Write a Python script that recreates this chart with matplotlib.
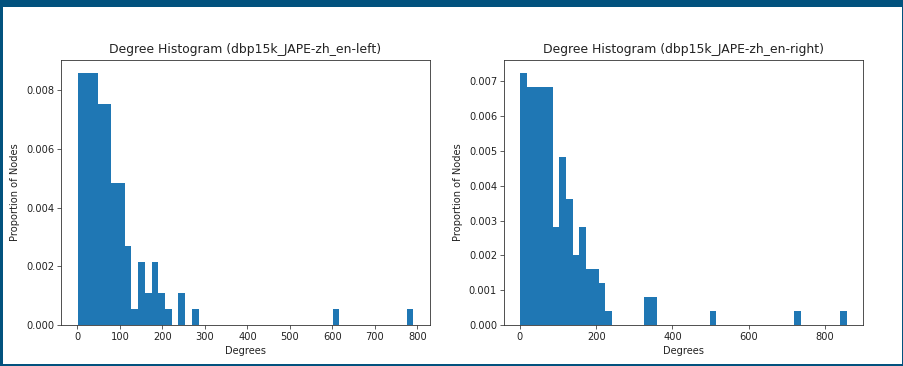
import numpy as np
import matplotlib
matplotlib.use("Agg")
import matplotlib.pyplot as plt
from matplotlib.patches import Rectangle

# histogram counts per bin (50 equal bins between min and max degree)
left_name = "dbp15k_JAPE-zh_en-left"
left_min, left_max = 1, 790
left_counts = [16, 16, 16, 14, 14, 9, 9, 5, 1, 4, 2, 4, 2, 1, 0, 2, 0, 1,
               0, 0, 0, 0, 0, 0, 0, 0, 0, 0, 0, 0, 0, 0, 0, 0, 0, 0, 0, 0,
               1, 0, 0, 0, 0, 0, 0, 0, 0, 0, 0, 1]

right_name = "dbp15k_JAPE-zh_en-right"
right_min, right_max = 1, 857
right_counts = [18, 17, 17, 17, 17, 7, 12, 9, 5, 7, 4, 4, 3, 1, 0, 0, 0, 0,
                0, 2, 2, 0, 0, 0, 0, 0, 0, 0, 0, 1, 0, 0, 0, 0, 0, 0, 0, 0,
                0, 0, 0, 0, 1, 0, 0, 0, 0, 0, 0, 1]

border = "#02527e"
ink = "#222222"
fs = 7.1

fig = plt.figure(figsize=(9.04, 3.66), dpi=100, facecolor=border)
# white canvas inside the dark frame
fig.patches.append(Rectangle((3 / 904, 2 / 366), 899 / 904, 357 / 366,
                             transform=fig.transFigure, facecolor="white",
                             edgecolor="none", zorder=-5))

ax1 = fig.add_axes([61 / 904, 1 - 325 / 366, 369 / 904, 265 / 366])
ax2 = fig.add_axes([504 / 904, 1 - 325 / 366, 359 / 904, 265 / 366])

for ax, name, lo, hi, counts in [(ax1, left_name, left_min, left_max, left_counts),
                                 (ax2, right_name, right_min, right_max, right_counts)]:
    edges = np.linspace(lo, hi, len(counts) + 1)
    ax.hist(edges[:-1], bins=edges, weights=counts, density=True, color="#1f77b4")
    ax.set_title(f"Degree Histogram ({name})", fontsize=8.9, pad=5, color=ink)
    ax.set_xlabel("Degrees", fontsize=fs, labelpad=3, color=ink)
    ax.set_ylabel("Proportion of Nodes", fontsize=fs, labelpad=4, color=ink)
    ax.tick_params(labelsize=fs, length=3, width=0.6, pad=2,
                   color="#444444", labelcolor=ink)
    for s in ax.spines.values():
        s.set_linewidth(0.6)
        s.set_color("#333333")

ax1.set_xticks(np.arange(0, 801, 100))
ax1.set_yticks(np.arange(0, 0.0081, 0.002))
ax2.set_xticks(np.arange(0, 801, 200))
ax2.set_yticks(np.arange(0, 0.0071, 0.001))

fig.savefig("out.png", dpi=100, facecolor=border)
